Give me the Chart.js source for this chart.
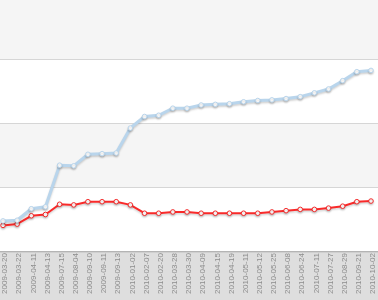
<!DOCTYPE html>
<html>
<head>
<meta charset="utf-8">
<script src="https://cdn.jsdelivr.net/npm/chart.js@4/dist/chart.umd.min.js"></script>
<style>
  html, body { margin: 0; padding: 0; background: #fff; overflow: hidden; }
  #wrap { width: 378px; height: 300px; }
</style>
</head>
<body>
<div id="wrap"><canvas id="growthChart"></canvas></div>
<script>
// dates along the x axis
const dates = [
  '2009-03-20', '2009-03-22', '2009-04-11', '2009-04-13', '2009-07-15',
  '2009-08-04', '2009-09-10', '2009-09-11', '2009-09-13', '2010-01-02',
  '2010-02-07', '2010-02-20', '2010-03-28', '2010-03-30', '2010-04-09',
  '2010-04-15', '2010-04-19', '2010-05-11', '2010-05-12', '2010-05-25',
  '2010-06-08', '2010-06-24', '2010-07-11', '2010-07-27', '2010-08-29',
  '2010-09-21', '2010-10-02'
];

// light blue series (upper line)
const blueValues = [
  47, 48, 66, 69, 134, 133, 151, 152, 153, 192,
  210, 212, 223, 223, 228, 229, 230, 233, 235, 236,
  238, 241, 247, 253, 266, 280, 282
];

// red series (lower line)
const redValues = [
  40, 42, 55, 57, 73, 72, 77, 77, 77, 72,
  59, 59, 61, 61, 59, 59, 59, 59, 59, 61,
  63, 65, 65, 67, 70, 77, 78
];

// y gridlines
const yTicks = [0, 100, 200, 300];

// draws the striped background and the label strip
const bandsPlugin = {
  id: 'bands',
  beforeDraw(chart) {
    const ctx = chart.ctx;
    const area = chart.chartArea;
    const y = chart.scales.y;
    ctx.save();
    ctx.fillStyle = '#dedede';
    ctx.fillRect(0, 0, chart.width, chart.height);
    ctx.fillStyle = '#ffffff';
    ctx.fillRect(0, 0, chart.width, area.bottom);
    const edges = yTicks.concat([y.max]);
    for (let i = 0; i < edges.length - 1; i++) {
      if (i % 2 === 1) {
        let top = y.getPixelForValue(edges[i + 1]);
        if (i === edges.length - 2) top = 0;
        const bottom = y.getPixelForValue(edges[i]);
        ctx.fillStyle = '#f5f5f5';
        ctx.fillRect(0, top, chart.width, bottom - top);
      }
    }
    ctx.fillStyle = '#d6d6d6';
    yTicks.slice(1).forEach(v => {
      const py = Math.round(y.getPixelForValue(v));
      ctx.fillRect(0, py, chart.width, 1);
    });
    ctx.fillStyle = '#b4b4b4';
    ctx.fillRect(0, Math.round(area.bottom), chart.width, 1);
    ctx.fillStyle = '#cfcfcf';
    ctx.fillRect(0, Math.round(area.bottom) + 1, chart.width, 1);
    ctx.restore();
  }
};

// soft shadow under the lines
const shadowPlugin = {
  id: 'lineShadow',
  beforeDatasetDraw(chart) {
    chart.ctx.save();
    chart.ctx.shadowColor = 'rgba(0,0,0,0.18)';
    chart.ctx.shadowOffsetY = 1.5;
    chart.ctx.shadowBlur = 2;
  },
  afterDatasetDraw(chart) {
    chart.ctx.restore();
  }
};

const ctx = document.getElementById('growthChart').getContext('2d');
const growthChart = new Chart(ctx, {
  type: 'line',
  data: {
    labels: dates,
    datasets: [
      {
        label: 'Blue',
        data: blueValues,
        borderColor: '#b9d5ec',
        borderWidth: 3,
        pointRadius: 2.3,
        pointBorderWidth: 1,
        pointBackgroundColor: '#ffffff',
        pointBorderColor: '#b9d5ec',
        tension: 0
      },
      {
        label: 'Red',
        data: redValues,
        borderColor: '#fa2a2a',
        borderWidth: 2,
        pointRadius: 2.3,
        pointBorderWidth: 1,
        pointBackgroundColor: '#ffffff',
        pointBorderColor: '#f42a2a',
        tension: 0
      }
    ]
  },
  options: {
    responsive: true,
    maintainAspectRatio: false,
    animation: false,
    layout: { autoPadding: false, padding: { left: 3, right: 7, top: 0, bottom: 0 } },
    plugins: {
      legend: { display: false },
      tooltip: { enabled: false }
    },
    scales: {
      x: {
        offset: false,
        grid: { display: false, drawTicks: false },
        border: { display: false },
        ticks: {
          autoSkip: false,
          minRotation: 90,
          maxRotation: 90,
          padding: 2,
          labelOffset: 2,
          color: '#8c8c8c',
          font: { family: 'Liberation Sans', size: 8 }
        },
        afterFit(scale) {
          scale.height = 49;
          scale.paddingLeft = 0;
          scale.paddingRight = 0;
        }
      },
      y: {
        min: 0,
        max: 392,
        display: false
      }
    }
  },
  plugins: [bandsPlugin, shadowPlugin]
});
</script>
</body>
</html>
